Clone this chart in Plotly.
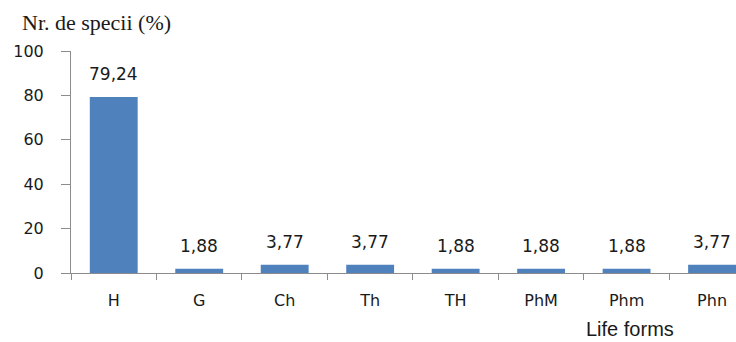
import plotly.graph_objects as go

# Life-form spectrum (percentage of species)
life_forms = ["H", "G", "Ch", "Th", "TH", "PhM", "Phm", "Phn"]
percent = [79.24, 1.88, 3.77, 3.77, 1.88, 1.88, 1.88, 3.77]
labels = [f"{v:.2f}".replace(".", ",") for v in percent]
y_ticks = [0, 20, 40, 60, 80, 100]

bar_color = "#4F81BD"
axis_color = "#8C8C8C"
text_color = "#1A1A1A"

fig = go.Figure()
fig.add_trace(go.Bar(
    x=list(range(len(life_forms))),
    y=percent,
    marker=dict(color=bar_color, line=dict(width=0)),
    width=0.56,
    hoverinfo="skip",
))

# value labels above the bars
for i, (v, t) in enumerate(zip(percent, labels)):
    fig.add_annotation(
        x=i, y=v, text=t, showarrow=False,
        xanchor="center", yanchor="bottom", yshift=11,
        font=dict(family="DejaVu Sans", size=17, color=text_color),
    )

# axis titles
fig.add_annotation(
    xref="paper", yref="paper", x=(20 - 71) / 665, y=1, yshift=29,
    text="Nr. de specii (%)", showarrow=False, xanchor="left", yanchor="middle",
    font=dict(family="Liberation Serif", size=22, color=text_color),
)
fig.add_annotation(
    xref="paper", yref="paper", x=(630 - 71) / 665, y=0, yshift=-69,
    text="Life forms", showarrow=False, xanchor="center", yanchor="bottom",
    font=dict(family="Liberation Sans", size=20, color=text_color),
)

fig.update_layout(
    width=736, height=342,
    margin=dict(l=71, r=0, t=51, b=69),
    paper_bgcolor="white", plot_bgcolor="white",
    showlegend=False,
    bargap=0.44,
)
fig.update_xaxes(
    range=[-0.5, 7.28],
    tickmode="array",
    tickvals=list(range(len(life_forms))),
    ticktext=life_forms,
    ticks="",
    showline=True, linecolor=axis_color, linewidth=1,
    showgrid=False, zeroline=False,
    tickfont=dict(family="DejaVu Sans", size=16, color=text_color),
    ticklabelstandoff=13,
)
# category separator ticks drawn on a hidden overlay axis
fig.update_layout(xaxis2=dict(
    overlaying="x", side="bottom", range=[-0.5, 7.28],
    tickmode="array", tickvals=[i - 0.5 for i in range(len(life_forms) + 1)],
    ticks="outside", ticklen=6, tickcolor=axis_color, tickwidth=1,
    showticklabels=False, showgrid=False, zeroline=False, showline=False,
))
fig.add_trace(go.Scatter(x=[0], y=[0], xaxis="x2", mode="markers",
                         marker=dict(opacity=0), hoverinfo="skip"))
fig.update_yaxes(
    range=[0, 100],
    tickmode="array", tickvals=y_ticks,
    ticks="outside", ticklen=9, tickcolor=axis_color, tickwidth=1,
    showline=True, linecolor=axis_color, linewidth=1,
    showgrid=False, zeroline=False,
    tickfont=dict(family="DejaVu Sans", size=16, color=text_color),
    ticklabelstandoff=14,
)

fig.write_html("out.html")
